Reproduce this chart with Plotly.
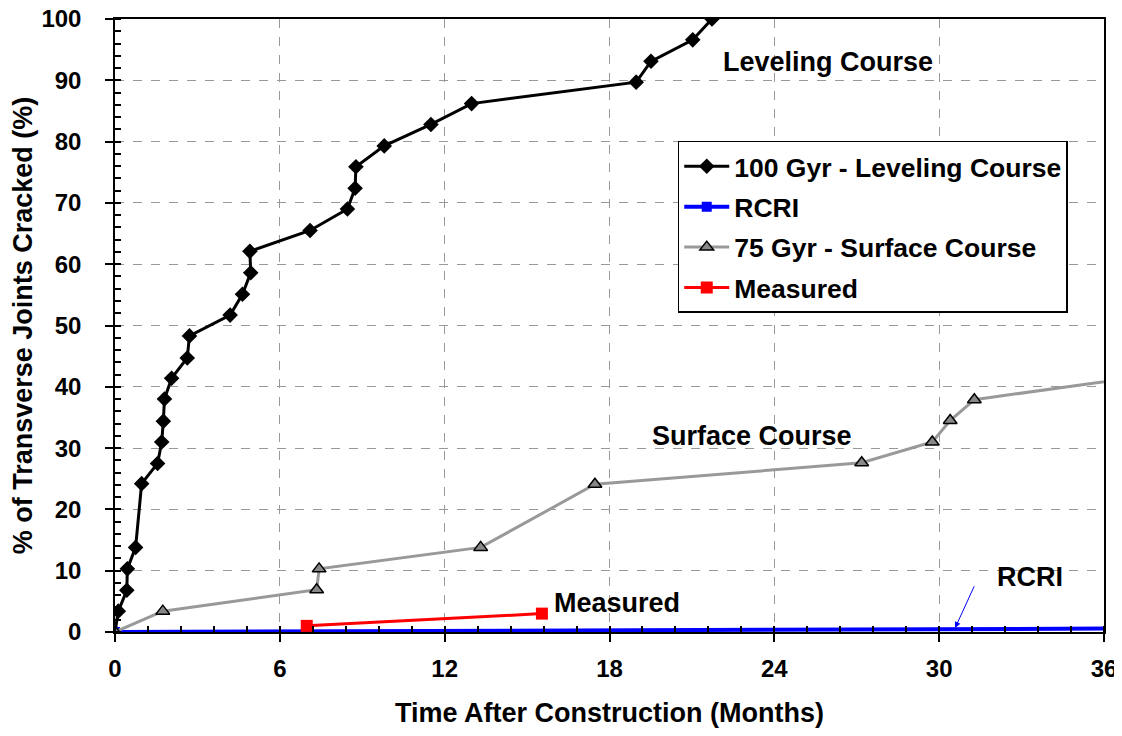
import plotly.graph_objects as go

# ---- data ----
lev_x = [0, 0.12, 0.43, 0.45, 0.75, 0.97, 1.55, 1.70, 1.76, 1.80, 2.06, 2.63, 2.71, 4.19,
         4.64, 4.94, 4.91, 7.10, 8.46, 8.74, 8.77, 9.80, 11.50, 12.98, 18.97, 19.51, 21.03, 21.73]
lev_y = [0, 3.4, 6.8, 10.3, 13.8, 24.2, 27.5, 31.0, 34.4, 38.0, 41.4, 44.7, 48.3, 51.7,
         55.1, 58.6, 62.1, 65.5, 69.0, 72.4, 75.9, 79.3, 82.8, 86.2, 89.7, 93.1, 96.6, 100]

rcri_x = [0, 42]
rcri_y = [0, 0.65]

surf_x = [0, 1.74, 7.34, 7.43, 13.31, 17.47, 27.18, 29.75, 30.40, 31.28, 38.5]
surf_y = [0, 3.4, 6.9, 10.3, 13.8, 24.1, 27.6, 31.0, 34.5, 37.9, 42.4]

meas_x = [6.98, 15.54]
meas_y = [1.0, 3.0]

x_ticks = [0, 6, 12, 18, 24, 30, 36]
y_ticks = [0, 10, 20, 30, 40, 50, 60, 70, 80, 90, 100]

FONT = "Arial, Liberation Sans, sans-serif"

fig = go.Figure()
fig.add_trace(go.Scatter(x=lev_x, y=lev_y, mode="lines+markers", name="100 Gyr - Leveling Course",
                         legendgroup="a",
                         line=dict(color="black", width=3),
                         marker=dict(symbol="diamond", size=12, color="black")))
fig.add_trace(go.Scatter(x=rcri_x, y=rcri_y, mode="lines+markers", name="RCRI",
                         legendgroup="b",
                         line=dict(color="#0000FF", width=4),
                         marker=dict(symbol="square", size=10, color="#0000FF")))
fig.add_trace(go.Scatter(x=surf_x, y=surf_y, mode="lines+markers", name="75 Gyr - Surface Course",
                         legendgroup="c",
                         line=dict(color="#999999", width=3),
                         marker=dict(symbol="triangle-up", size=12, color="#888888",
                                     line=dict(color="black", width=1.5))))
fig.add_trace(go.Scatter(x=meas_x, y=meas_y, mode="lines+markers", name="Measured",
                         legendgroup="d",
                         line=dict(color="#FF0000", width=3),
                         marker=dict(symbol="square", size=12, color="#FF0000")))

ann_font = dict(family=FONT, size=27, color="black", weight="bold")
fig.add_annotation(x=25.96, y=93.0, text="Leveling Course", showarrow=False, font=ann_font)
fig.add_annotation(x=23.2, y=32.0, text="Surface Course", showarrow=False, font=ann_font)
fig.add_annotation(x=18.27, y=4.7, text="Measured", showarrow=False, font=ann_font)
fig.add_annotation(x=33.3, y=9.0, text="RCRI", showarrow=False, font=ann_font)
fig.add_annotation(x=30.58, y=0.65, ax=31.3, ay=7.7, axref="x", ayref="y", text="",
                   showarrow=True, arrowhead=2, arrowsize=1.2, arrowwidth=1, arrowcolor="#0000FF")

fig.update_xaxes(range=[0, 36], tickvals=x_ticks, ticktext=[str(v) for v in x_ticks],
                 automargin=False, ticklabeloverflow="allow",
                 showgrid=True, gridcolor="#999999", griddash="dash", gridwidth=1,
                 showline=True, linecolor="black", linewidth=1.5, mirror=True,
                 ticks="outside", ticklen=8, tickcolor="black", tickwidth=1.5,
                 ticklabelstandoff=6,
                 minor=dict(dtick=1.2, tick0=0, ticks="inside", ticklen=6, tickcolor="black", showgrid=False),
                 tickfont=dict(family=FONT, size=24, color="black", weight="bold"),
                 title=dict(text="Time After Construction (Months)", standoff=33,
                            font=dict(family=FONT, size=27, color="black", weight="bold")),
                 zeroline=False)
fig.update_yaxes(range=[0, 100], tickvals=y_ticks, ticktext=[str(v) for v in y_ticks],
                 automargin=False, ticklabeloverflow="allow",
                 showgrid=True, gridcolor="#999999", griddash="dash", gridwidth=1,
                 showline=True, linecolor="black", linewidth=1.5, mirror=True,
                 ticks="outside", ticklen=8, tickcolor="black", tickwidth=1.5,
                 ticklabelstandoff=19,
                 minor=dict(dtick=2, tick0=0, ticks="inside", ticklen=6, tickcolor="black", showgrid=False),
                 tickfont=dict(family=FONT, size=24, color="black", weight="bold"),
                 title=dict(text="% of Transverse Joints Cracked (%)", standoff=22,
                            font=dict(family=FONT, size=27, color="black", weight="bold")),
                 zeroline=False)

fig.update_layout(
    width=1114, height=720,
    margin=dict(l=107, r=18, t=11, b=96),
    plot_bgcolor="white", paper_bgcolor="white",
    legend=dict(x=0.569, y=0.801, xanchor="left", yanchor="top",
                bgcolor="white", bordercolor="black", borderwidth=1.5,
                font=dict(family=FONT, size=26.5, color="black", weight="bold"),
                itemwidth=45, tracegroupgap=3),
)

fig.write_html("out.html")
